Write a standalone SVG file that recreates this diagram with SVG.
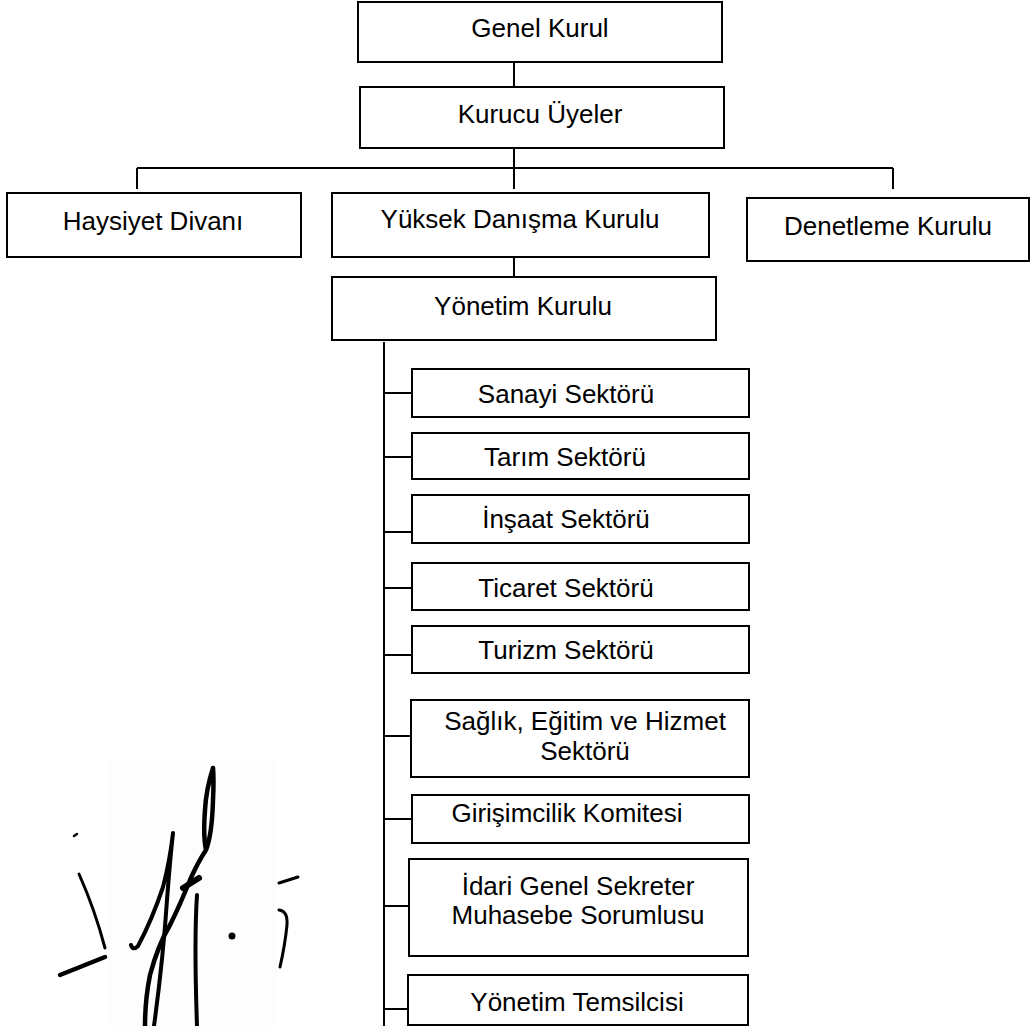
<svg xmlns="http://www.w3.org/2000/svg" width="1031" height="1026" viewBox="0 0 1031 1026">
<style>
.box{fill:#fff;stroke:#000;stroke-width:2}
.t{font-family:"Liberation Sans",Arial,sans-serif;font-size:26px;fill:#000;text-anchor:middle}
.c{stroke:#000;stroke-width:2;fill:none}
.sig{stroke:#000;fill:none;stroke-linecap:round;stroke-linejoin:round}
</style>
<rect width="1031" height="1026" fill="#fff"/>
<g id="connectors">
<path class="c" d="M514 62V87M514 148V189M137 168H893M137 168V189M893 168V189M514 257V277M384 342V1026"/>
<path class="c" d="M384 393H412M384 457H412M384 532H412M384 588H412M384 655H412M384 736H411M384 819H412M384 906H409M384 1009H408"/>
</g>
<g id="genel-kurul"><rect class="box" x="358" y="2" width="364" height="60"/><text class="t" x="540" y="37">Genel Kurul</text></g>
<g id="kurucu-uyeler"><rect class="box" x="360" y="87" width="364" height="61"/><text class="t" x="540" y="123">Kurucu Üyeler</text></g>
<g id="haysiyet-divani"><rect class="box" x="7" y="193" width="294" height="64"/><text class="t" x="153" y="230">Haysiyet Divanı</text></g>
<g id="yuksek-danisma"><rect class="box" x="332" y="193" width="377" height="64"/><text class="t" x="520" y="228">Yüksek Danışma Kurulu</text></g>
<g id="denetleme-kurulu"><rect class="box" x="747" y="198" width="282" height="63"/><text class="t" x="888" y="235">Denetleme Kurulu</text></g>
<g id="yonetim-kurulu"><rect class="box" x="332" y="277" width="384" height="63"/><text class="t" x="523" y="315">Yönetim Kurulu</text></g>
<g id="sanayi"><rect class="box" x="412" y="369" width="337" height="48"/><text class="t" x="566" y="403">Sanayi Sektörü</text></g>
<g id="tarim"><rect class="box" x="412" y="433" width="337" height="46"/><text class="t" x="565" y="466">Tarım Sektörü</text></g>
<g id="insaat"><rect class="box" x="412" y="495" width="337" height="48"/><text class="t" x="566" y="528">İnşaat Sektörü</text></g>
<g id="ticaret"><rect class="box" x="412" y="563" width="337" height="47"/><text class="t" x="566" y="597">Ticaret Sektörü</text></g>
<g id="turizm"><rect class="box" x="412" y="626" width="337" height="47"/><text class="t" x="566" y="659">Turizm Sektörü</text></g>
<g id="saglik"><rect class="box" x="411" y="700" width="338" height="77"/><text class="t" x="585" y="730">Sağlık, Eğitim ve Hizmet</text><text class="t" x="585" y="760">Sektörü</text></g>
<g id="girisimcilik"><rect class="box" x="412" y="795" width="337" height="48"/><text class="t" x="567" y="822">Girişimcilik Komitesi</text></g>
<g id="idari"><rect class="box" x="409" y="859" width="339" height="97"/><text class="t" x="578" y="895">İdari Genel Sekreter</text><text class="t" x="578" y="924">Muhasebe Sorumlusu</text></g>
<g id="yonetim-temsilcisi"><rect class="box" x="408" y="975" width="340" height="50"/><text class="t" x="577" y="1011">Yönetim Temsilcisi</text></g>
<g id="signature">
<rect x="107" y="759" width="171" height="267" fill="#fdfdfd"/>
<path class="sig" stroke-width="2.5" d="M74 836L77 834"/>
<path class="sig" stroke-width="3" d="M79 874Q95 910 105 948"/>
<path class="sig" stroke-width="4.5" d="M60 975L105 957"/>
<path class="sig" stroke-width="4" d="M131 945Q133 951 138 946Q152 920 163 887Q170 860 173 833Q170 860 167 900Q163 960 154 1026"/>
<path class="sig" stroke-width="4.5" d="M213 768Q206 790 205 810Q203 835 206 850Q212 835 213 800Q214 780 213 768M206 850Q198 862 190 880Q180 905 170 925Q158 945 150 975Q145 1000 145 1026"/>
<path class="sig" stroke-width="6" d="M183 888L199 878"/>
<path class="sig" stroke-width="4" d="M197 895Q194 940 197 1026"/>
<circle cx="232" cy="936" r="3.5" fill="#000"/>
<path class="sig" stroke-width="3" d="M279 883L298 877M279 910Q288 911 287 925Q285 945 280 967"/>
</g>
</svg>
